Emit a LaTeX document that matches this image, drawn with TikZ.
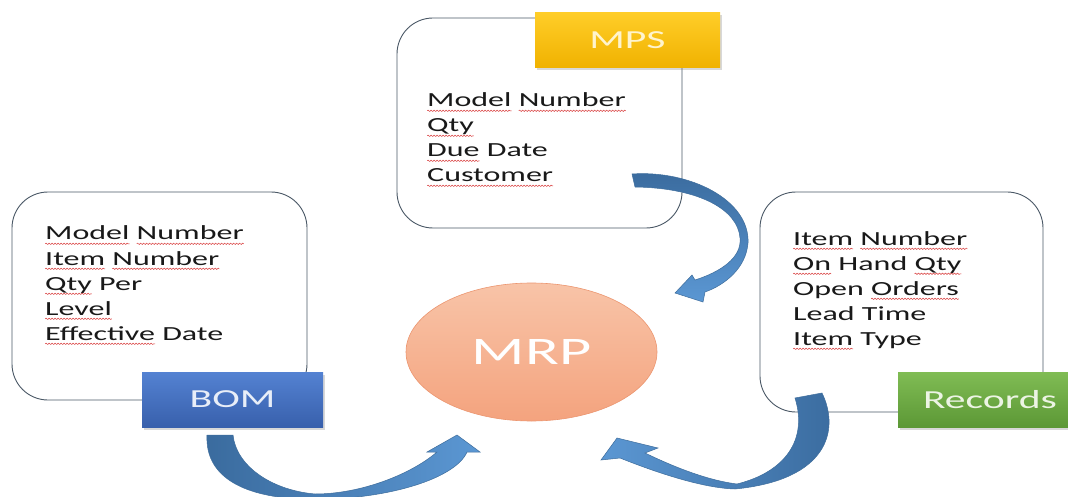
\documentclass[tikz,border=0pt]{standalone}
\usepackage{fontspec}
\setmainfont{Carlito}[FakeStretch=1.6]
\usetikzlibrary{shapes.geometric,shadows,decorations.pathmorphing}
\definecolor{spellred}{HTML}{D83A3A}
\definecolor{boxline}{HTML}{4A5866}
\definecolor{arrowdark}{HTML}{3A6B9E}
\definecolor{arrowlight}{HTML}{5B97D3}
\definecolor{arrowedge}{HTML}{3E6D9C}
\newsavebox\rwbox
\newlength\rwlen
\newcommand\rw[1]{\sbox\rwbox{#1}\setlength\rwlen{\wd\rwbox}\usebox\rwbox\tikz[overlay]\draw[spellred,line width=0.5pt,decorate,decoration={snake,amplitude=0.7pt,segment length=3pt}] (-\rwlen,-3.8pt) -- (0pt,-3.8pt);}
\begin{document}
\begin{tikzpicture}[x=1pt,y=-1pt,
  infobox/.style={draw=boxline, line width=0.9pt, rounded corners=36pt, fill=white,
    inner sep=0pt, minimum width=#1},
  listline/.style={anchor=base west, inner sep=0pt, font=\fontsize{20}{25}\selectfont, text=black!90},
  tagbox/.style={inner sep=0pt, minimum height=55pt, font=\fontsize{26}{30}\selectfont,
    drop shadow={opacity=0.3, shadow xshift=1.5pt, shadow yshift=-2.5pt}},
  bluearrow/.style={draw=arrowedge, line width=0.5pt}
]
\clip (0,0) rectangle (1068,497);
\fill[white] (0,0) rectangle (1068,497);

% information boxes
\node[infobox=285pt, minimum height=210pt] (mpsbox) at (539.5,123) {};
\node[infobox=295pt, minimum height=208pt] (bombox) at (159.5,296) {};
\node[infobox=283pt, minimum height=220pt] (recbox) at (901.5,302) {};

% list texts
\node[listline] (mps1) at (427,107) {\rw{Model} \rw{Number}};
\node[listline] (mps2) at (427,132) {\rw{Qty}};
\node[listline] (mps3) at (427,157) {\rw{Due} Date};
\node[listline] (mps4) at (427,182) {\rw{Customer}};

\node[listline] (bom1) at (45,240) {\rw{Model} \rw{Number}};
\node[listline] (bom2) at (45,265) {\rw{Item} \rw{Number}};
\node[listline] (bom3) at (45,290) {\rw{Qty} Per};
\node[listline] (bom4) at (45,315) {\rw{Level}};
\node[listline] (bom5) at (45,340) {\rw{Effective} Date};

\node[listline] (rec1) at (793,245) {\rw{Item} \rw{Number}};
\node[listline] (rec2) at (793,270) {\rw{On} Hand \rw{Qty}};
\node[listline] (rec3) at (793,295) {Open \rw{Orders}};
\node[listline] (rec4) at (793,320) {Lead Time};
\node[listline] (rec5) at (793,345) {\rw{Item} Type};

% title tags
\node[tagbox, minimum width=185pt, top color={rgb,255:red,255;green,205;blue,40},
  bottom color={rgb,255:red,240;green,178;blue,0}, text={rgb,255:red,255;green,244;blue,205}]
  (mps) at (627.5,40.5) {MPS};
\node[tagbox, minimum width=181pt, top color={rgb,255:red,84;green,130;blue,210},
  bottom color={rgb,255:red,56;green,96;blue,172}, text={rgb,255:red,232;green,238;blue,248}]
  (bom) at (232.5,399.5) {BOM};
\node[tagbox, minimum width=184pt, top color={rgb,255:red,128;green,188;blue,84},
  bottom color={rgb,255:red,92;green,152;blue,54}, text={rgb,255:red,236;green,244;blue,228}]
  (rec) at (990,399.5) {Records};

% MRP
\node[ellipse, inner sep=0pt, minimum width=251pt, minimum height=138pt,
  draw={rgb,255:red,236;green,150;blue,112}, line width=0.6pt,
  top color={rgb,255:red,248;green,196;blue,168}, bottom color={rgb,255:red,244;green,163;blue,126},
  text=white, font=\fontsize{39}{45}\selectfont] (mrp) at (531.5,352) {MRP};

% curved block arrows
\shade[bluearrow, top color=arrowdark, bottom color=arrowlight]
  (632,174) .. controls (690,170) and (750,200) .. (748,243)
  .. controls (746,268) and (725,285) .. (705,292)
  -- (703,302) -- (675,293) -- (692,275) -- (695,280)
  .. controls (720,272) and (742,258) .. (740,238)
  .. controls (738,210) and (700,188) .. (635,187) -- cycle;

\shade[bluearrow, left color=arrowdark, right color=arrowlight]
  (207,435) .. controls (205,475) and (240,496) .. (300,499)
  .. controls (380,502) and (455,480) .. (467,452)
  -- (480,452) -- (457,435) -- (427,452) -- (437,452)
  .. controls (410,475) and (360,494) .. (315,494)
  .. controls (270,490) and (236,465) .. (233,435) -- cycle;

\shade[bluearrow, left color=arrowlight, right color=arrowdark]
  (822,393) .. controls (840,430) and (828,480) .. (735,489)
  .. controls (700,488) and (650,470) .. (620,458)
  -- (601,460) -- (617,438) -- (658,448) -- (645,453)
  .. controls (670,465) and (705,480) .. (737,484)
  .. controls (785,472) and (808,440) .. (795,398) -- cycle;
\end{tikzpicture}
\end{document}
